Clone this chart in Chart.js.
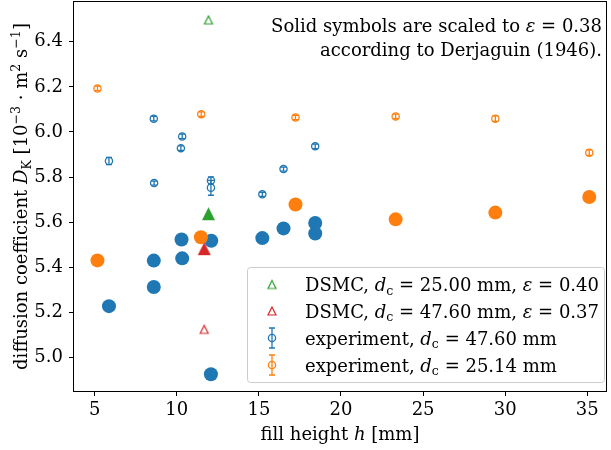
<!DOCTYPE html>
<html>
<head>
<meta charset="utf-8">
<script src="https://cdn.jsdelivr.net/npm/chart.js@4.4.1/dist/chart.umd.min.js"></script>
<style>
  html, body { margin: 0; padding: 0; background: #fff; }
</style>
</head>
<body>
<canvas id="chart" width="611" height="450"></canvas>
<script>
// experiment, d_c = 47.60 mm (hollow, with error bars)
const expBigX = [5.87, 8.60, 8.62, 10.33, 10.25, 12.08, 12.08, 15.21, 16.50, 18.43];
const expBigY = [5.871, 6.059, 5.773, 5.980, 5.928, 5.785, 5.752, 5.723, 5.835, 5.936];
const expBigErr = [0.016, 0.010, 0.009, 0.010, 0.010, 0.016, 0.033, 0.009, 0.009, 0.010];
// experiment, d_c = 25.14 mm
const expSmallX = [5.17, 11.49, 17.23, 23.33, 29.40, 35.12];
const expSmallY = [6.193, 6.079, 6.064, 6.069, 6.059, 5.908];
const expSmallErr = [0.010, 0.010, 0.010, 0.010, 0.012, 0.012];
// solid symbols: scaled to eps = 0.38
const scaledBigX = [5.87, 8.60, 8.60, 10.29, 10.33, 12.10, 12.08, 15.21, 16.50, 18.43, 18.43];
const scaledBigY = [5.227, 5.312, 5.429, 5.523, 5.439, 5.517, 4.925, 5.529, 5.572, 5.596, 5.549];
const scaledSmallX = [5.17, 11.47, 17.23, 23.33, 29.40, 35.12];
const scaledSmallY = [5.430, 5.533, 5.678, 5.612, 5.642, 5.711];
// DSMC
const dsmc25X = [11.93], dsmc25Y = [6.497], dsmc25ScaledY = [5.637];
const dsmc47X = [11.67], dsmc47Y = [5.124], dsmc47ScaledY = [5.482];

const xTicks = [5, 10, 15, 20, 25, 30, 35];
const yTicks = [5.0, 5.2, 5.4, 5.6, 5.8, 6.0, 6.2, 6.4];

const BLUE = '#1f77b4', ORANGE = '#ff7f0e', GREEN = '#2ca02c', RED = '#d62728';
const FONT = '"DejaVu Serif", serif';
const FS = 18;

function pts(xs, ys) { return xs.map((x, i) => ({ x, y: ys[i] })); }

// matplotlib '^' marker: bbox-centred triangle
function makeTri(color, size, filled, lw) {
  const c = document.createElement('canvas');
  const pad = Math.ceil(lw || 0) + 1;
  c.width = c.height = size + 2 * pad;
  const g = c.getContext('2d');
  const cx = c.width / 2, cy = c.height / 2, h = size / 2;
  g.beginPath();
  g.moveTo(cx, cy - h); g.lineTo(cx - h, cy + h); g.lineTo(cx + h, cy + h); g.closePath();
  if (filled) { g.fillStyle = color; g.fill(); }
  else { g.strokeStyle = color; g.lineWidth = lw; g.stroke(); }
  return c;
}
const triGreen = makeTri(GREEN, 8, false, 1.2), triRed = makeTri(RED, 8, false, 1.2);
const triGreenS = makeTri(GREEN, 13, true), triRedS = makeTri(RED, 13, true);

function segFont(s, size) {
  return (s.i ? 'italic ' : '') + ((s.sub || s.sup) ? size * 0.7 : size) + 'px ' + FONT;
}
function richWidth(ctx, segs, size) {
  let w = 0;
  segs.forEach(s => { ctx.font = segFont(s, size); w += ctx.measureText(s.t).width; });
  return w;
}
function drawRich(ctx, segs, x, y, align, size) {
  const w = richWidth(ctx, segs, size);
  let cx = align === 'right' ? x - w : align === 'center' ? x - w / 2 : x;
  ctx.textAlign = 'left';
  ctx.textBaseline = 'alphabetic';
  ctx.fillStyle = '#000';
  segs.forEach(s => {
    ctx.font = segFont(s, size);
    const dy = s.sub ? size * 0.22 : s.sup ? -size * 0.4 : 0;
    ctx.fillText(s.t, cx, y + dy);
    cx += ctx.measureText(s.t).width;
  });
}

const legendItems = [
  { kind: 'tri', img: triGreen, color: GREEN, label: [{ t: 'DSMC, ' }, { t: 'd', i: 1 }, { t: 'c', sub: 1 }, { t: ' = 25.00 mm, ' }, { t: 'ε', i: 1 }, { t: ' = 0.40' }] },
  { kind: 'tri', img: triRed, color: RED, label: [{ t: 'DSMC, ' }, { t: 'd', i: 1 }, { t: 'c', sub: 1 }, { t: ' = 47.60 mm, ' }, { t: 'ε', i: 1 }, { t: ' = 0.37' }] },
  { kind: 'err', color: BLUE, label: [{ t: 'experiment, ' }, { t: 'd', i: 1 }, { t: 'c', sub: 1 }, { t: ' = 47.60 mm' }] },
  { kind: 'err', color: ORANGE, label: [{ t: 'experiment, ' }, { t: 'd', i: 1 }, { t: 'c', sub: 1 }, { t: ' = 25.14 mm' }] }
];

function errMarker(ctx, x, y, color, half) {
  ctx.strokeStyle = color;
  ctx.lineWidth = 1.3;
  ctx.beginPath();
  ctx.moveTo(x, y - half); ctx.lineTo(x, y + half);
  ctx.moveTo(x - 3, y - half); ctx.lineTo(x + 3, y - half);
  ctx.moveTo(x - 3, y + half); ctx.lineTo(x + 3, y + half);
  ctx.stroke();
}

const decor = {
  id: 'decor',
  beforeDatasetsDraw(chart) {
    const { ctx, scales: { x, y } } = chart;
    ctx.save();
    [[expBigX, expBigY, expBigErr, BLUE], [expSmallX, expSmallY, expSmallErr, ORANGE]].forEach(([xs, ys, es, col]) => {
      xs.forEach((v, i) => {
        const px = x.getPixelForValue(v);
        const py = y.getPixelForValue(ys[i]);
        const half = y.getPixelForValue(ys[i] - es[i]) - py;
        errMarker(ctx, px, py, col, half);
      });
    });
    ctx.restore();
  },
  afterDraw(chart) {
    const { ctx, chartArea: a } = chart;
    ctx.save();
    // frame
    ctx.strokeStyle = '#000';
    ctx.lineWidth = 1;
    ctx.strokeRect(a.left + 0.5, a.top + 0.5, a.right - a.left - 1, a.bottom - a.top - 1);
    // axis titles
    drawRich(ctx, [{ t: 'fill height ' }, { t: 'h', i: 1 }, { t: ' [mm]' }], (a.left + a.right) / 2, 439.5, 'center', FS);
    ctx.save();
    ctx.translate(27, (a.top + a.bottom) / 2);
    ctx.rotate(-Math.PI / 2);
    drawRich(ctx, [{ t: 'diffusion coefficient ' }, { t: 'D', i: 1 }, { t: 'K', sub: 1 }, { t: ' [10' }, { t: '−3', sup: 1 },
      { t: ' · m' }, { t: '2', sup: 1 }, { t: ' s' }, { t: '−1', sup: 1 }, { t: ']' }], 0, 0, 'center', FS);
    ctx.restore();
    // note
    drawRich(ctx, [{ t: 'Solid symbols are scaled to ' }, { t: 'ε', i: 1 }, { t: ' = 0.38' }], 602, 31.5, 'right', FS);
    drawRich(ctx, [{ t: 'according to Derjaguin (1946).' }], 602, 56, 'right', FS);
    // legend
    const lx = 247, ly = 267, lw = 357, lh = 115;
    ctx.beginPath();
    ctx.roundRect(lx + 0.5, ly + 0.5, lw, lh, 3);
    ctx.fillStyle = 'rgba(255,255,255,0.8)';
    ctx.fill();
    ctx.strokeStyle = '#cccccc';
    ctx.lineWidth = 1;
    ctx.stroke();
    const rows = [284.5, 311, 338, 365];
    legendItems.forEach((it, i) => {
      const cy = rows[i], mx = 272;
      if (it.kind === 'tri') {
        ctx.drawImage(it.img, mx - it.img.width / 2, cy - it.img.height / 2);
      } else {
        errMarker(ctx, mx, cy, it.color, 10);
        ctx.beginPath();
        ctx.arc(mx, cy, 3.6, 0, Math.PI * 2);
        ctx.lineWidth = 1.3;
        ctx.stroke();
      }
      drawRich(ctx, it.label, 305, cy + 6.5, 'left', FS);
    });
    ctx.restore();
  }
};

const hollow = (data, color, order) => ({
  data, order, pointStyle: 'circle', pointRadius: 3.6, borderWidth: 1.3,
  borderColor: color, backgroundColor: 'rgba(0,0,0,0)'
});
const solid = (data, color, order) => ({
  data, order, pointStyle: 'circle', pointRadius: 7, borderWidth: 0,
  borderColor: color, backgroundColor: color
});
const tri = (data, img, order) => ({ data, order, pointStyle: img, pointRadius: 5, borderWidth: 0 });

function noPad(s) {
  s.paddingTop = 0; s.paddingBottom = 0; s.paddingLeft = 0; s.paddingRight = 0;
}

new Chart(document.getElementById('chart'), {
  type: 'scatter',
  data: {
    datasets: [
      hollow(pts(expBigX, expBigY), BLUE, 8),
      hollow(pts(expSmallX, expSmallY), ORANGE, 7),
      tri(pts(dsmc25X, dsmc25Y), triGreen, 6),
      tri(pts(dsmc47X, dsmc47Y), triRed, 5),
      solid(pts(scaledBigX, scaledBigY), BLUE, 4),
      solid(pts(scaledSmallX, scaledSmallY), ORANGE, 3),
      tri(pts(dsmc25X, dsmc25ScaledY), triGreenS, 2),
      tri(pts(dsmc47X, dsmc47ScaledY), triRedS, 1)
    ]
  },
  options: {
    responsive: false,
    animation: false,
    events: [],
    layout: { autoPadding: false, padding: { left: 0, right: 4, top: 1, bottom: 0 } },
    plugins: { legend: { display: false }, tooltip: { enabled: false } },
    scales: {
      x: {
        type: 'linear', min: 3.68, max: 36.2,
        border: { display: false },
        grid: { drawOnChartArea: false, drawTicks: true, tickLength: 4, tickColor: '#000', tickWidth: 1 },
        afterBuildTicks: s => { s.ticks = xTicks.map(v => ({ value: v })); },
        ticks: { font: { family: FONT, size: FS }, color: '#000', padding: 4, maxRotation: 0, callback: v => String(v) },
        afterFit: s => { s.height = 58; noPad(s); }
      },
      y: {
        type: 'linear', min: 4.846, max: 6.581,
        border: { display: false },
        grid: { drawOnChartArea: false, drawTicks: true, tickLength: 4, tickColor: '#000', tickWidth: 1 },
        afterBuildTicks: s => { s.ticks = yTicks.map(v => ({ value: v })); },
        ticks: { font: { family: FONT, size: FS }, color: '#000', padding: 6, callback: v => Number(v).toFixed(1) },
        afterFit: s => { s.width = 73; noPad(s); }
      }
    }
  },
  plugins: [decor]
});
</script>
</body>
</html>
